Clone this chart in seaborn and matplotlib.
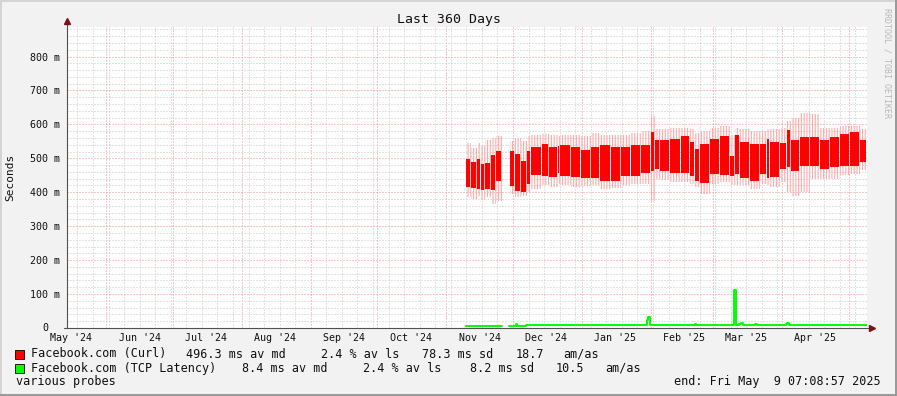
import numpy as np
import pandas as pd
import matplotlib
matplotlib.use("Agg")
import matplotlib.pyplot as plt
import matplotlib.dates as mdates
import matplotlib.transforms as mtrans
from matplotlib.patches import Rectangle
from matplotlib.lines import Line2D
import seaborn as sns

# ---------------- data ----------------
range_start = "2024-05-14 07:08:57"
range_end = "2025-05-09 07:08:57"

# Curl probe: blocks (start time) with median band low/high and smoke low/high (ms)
block_start = [
    "2024-11-09 21:00", "2024-11-12 03:00", "2024-11-14 16:00", "2024-11-16 15:00",
    "2024-11-18 10:00", "2024-11-21 03:00", "2024-11-23 09:00", "2024-11-25 22:00",
    "2024-11-29 16:00", "2024-12-01 22:00", "2024-12-04 15:00", "2024-12-07 04:00",
    "2024-12-09 00:00", "2024-12-13 22:00", "2024-12-17 08:00", "2024-12-21 10:00",
    "2024-12-22 04:00", "2024-12-27 03:00", "2024-12-31 15:00", "2025-01-05 03:00",
    "2025-01-09 04:00", "2025-01-14 03:00", "2025-01-18 15:00", "2025-01-23 03:00",
    "2025-01-27 15:00", "2025-02-01 03:00", "2025-02-02 22:00", "2025-02-05 04:00",
    "2025-02-09 16:00", "2025-02-14 12:00", "2025-02-18 16:00", "2025-02-20 22:00",
    "2025-02-23 04:00", "2025-02-27 16:00", "2025-03-04 04:00", "2025-03-08 16:00",
    "2025-03-10 22:00", "2025-03-13 04:00", "2025-03-17 16:00", "2025-03-22 04:00",
    "2025-03-25 08:00", "2025-03-26 16:00", "2025-03-31 04:00", "2025-04-03 08:00",
    "2025-04-05 03:00", "2025-04-09 04:00", "2025-04-13 16:00", "2025-04-18 04:00",
    "2025-04-22 16:00", "2025-04-27 04:00", "2025-05-01 16:00", "2025-05-06 04:00",
]
curl_hi = [498, 488, 497, 483, 487, 510, 523, np.nan,
           523, 513, 493, 523, 533, 543, 533, 535,
           538, 533, 525, 533, 540, 533, 533, 538,
           538, 577, 555, 555, 558, 565, 548, 528,
           543, 558, 565, 508, 568, 548, 543, 543,
           558, 548, 545, 583, 555, 563, 563, 555,
           563, 573, 578, 553]
curl_lo = [415, 413, 411, 408, 411, 408, 433, np.nan,
           418, 405, 401, 423, 451, 448, 445, 458,
           448, 445, 441, 443, 433, 433, 448, 448,
           458, 463, 468, 463, 458, 458, 448, 433,
           428, 455, 451, 448, 453, 443, 433, 453,
           443, 445, 468, 473, 463, 478, 478, 468,
           473, 478, 478, 488]
smoke_hi = [545, 530, 545, 540, 555, 560, 565, np.nan,
            550, 560, 550, 565, 570, 573, 570, 565,
            570, 568, 565, 575, 570, 568, 570, 575,
            580, 625, 585, 585, 590, 590, 585, 575,
            580, 590, 595, 570, 590, 585, 580, 580,
            585, 585, 590, 610, 620, 635, 630, 590,
            590, 595, 595, 585]
smoke_lo = [385, 380, 390, 378, 385, 365, 375, np.nan,
            395, 385, 390, 400, 410, 420, 415, 425,
            420, 415, 418, 420, 410, 412, 420, 425,
            425, 375, 440, 435, 430, 430, 425, 415,
            395, 425, 430, 420, 420, 420, 410, 425,
            420, 415, 430, 400, 390, 400, 440, 440,
            440, 450, 455, 465]

# TCP latency probe (step line, ms)
tcp_time = ["2024-11-09 21:00", "2024-11-25 22:00",
            "2024-11-29 05:00", "2024-12-02 03:00", "2024-12-02 20:00", "2024-12-06 15:00",
            "2024-12-09 00:00", "2025-01-30 08:00", "2025-01-30 18:00", "2025-01-31 11:00",
            "2025-02-20 17:00", "2025-02-21 09:00", "2025-03-10 14:00", "2025-03-11 12:00",
            "2025-03-12 22:00", "2025-03-13 14:00", "2025-03-14 12:00", "2025-03-19 22:00",
            "2025-03-20 19:00", "2025-04-02 21:00", "2025-04-03 12:00", "2025-04-04 05:00",
            "2025-05-09 07:00"]
tcp_ms = [6, 6,
          6, 12, 6, 9,
          8, 25, 31, 8,
          12, 8, 112, 8,
          12, 15, 8, 12,
          8, 12, 16, 8,
          8]
tcp_segment = [0, 0] + [1] * 21

month_labels = ["May '24", "Jun '24", "Jul '24", "Aug '24", "Sep '24", "Oct '24",
                "Nov '24", "Dec '24", "Jan '25", "Feb '25", "Mar '25", "Apr '25"]
y_ticks = [100, 200, 300, 400, 500, 600, 700, 800]

legend_rows = [
    ["Facebook.com (Curl)", "496.3 ms av md", "2.4 % av ls", "78.3 ms sd", "18.7", "am/as"],
    ["Facebook.com (TCP Latency)", "8.4 ms av md", "2.4 % av ls", "8.2 ms sd", "10.5", "am/as"],
]
legend_colors = ["#ff0000", "#00ff00"]

# ---------------- style ----------------
sns.set_theme(style="white")
plt.rcParams["font.family"] = ["DejaVu Sans Mono"]
plt.rcParams["hatch.linewidth"] = 0.8

W, H = 897, 396
fig = plt.figure(figsize=(W / 100, H / 100), dpi=100, facecolor="#f2f2f2")

def fx(px):
    return px / W

def fy(py):
    return 1 - py / H

L, R, T, B = 67, 867, 27, 328
ax = fig.add_axes([fx(L), fy(B), (R - L) / W, (B - T) / H])
ax.set_facecolor("white")

t0 = pd.Timestamp(range_start)
t1 = pd.Timestamp(range_end)

# grid
MINOR_C = "#c8c8c8"
MAJOR_C = "#f09090"
ax.xaxis.set_major_locator(mdates.MonthLocator())
ax.xaxis.set_minor_locator(mdates.WeekdayLocator(byweekday=mdates.SU))
ax.yaxis.set_major_locator(matplotlib.ticker.FixedLocator([0] + y_ticks))
ax.yaxis.set_minor_locator(matplotlib.ticker.MultipleLocator(20))
ax.grid(which="minor", color=MINOR_C, linestyle=(0, (1, 2)), linewidth=0.72)
ax.grid(which="major", color=MAJOR_C, linestyle=(0, (1, 2)), linewidth=0.72)
ax.set_axisbelow(True)
for s in ax.spines.values():
    s.set_visible(False)

ax.tick_params(axis="both", which="both", length=1.6, width=0.6, color="#909090",
               direction="out")

# curl probe: smoke + median band
starts = pd.to_datetime(block_start)
ends = list(starts[1:]) + [t1]
s_num = mdates.date2num(starts)
e_num = mdates.date2num(pd.DatetimeIndex(ends))
widths = e_num - s_num
hi = np.array(curl_hi, dtype=float)
lo = np.array(curl_lo, dtype=float)
shi = np.array(smoke_hi, dtype=float)
slo = np.array(smoke_lo, dtype=float)
ok = ~np.isnan(hi)

ax.bar(s_num[ok], shi[ok] - slo[ok], bottom=slo[ok], width=widths[ok], align="edge",
       facecolor="none", edgecolor="#ffaaaa", hatch="|" * 6, linewidth=0, zorder=2)
ax.bar(s_num[ok], hi[ok] - lo[ok], bottom=lo[ok], width=widths[ok] - 0.45, align="edge",
       color="#ff0000", edgecolor="none", linewidth=0, zorder=3)

# tcp probe
tcp_df = pd.DataFrame({"time": mdates.date2num(pd.to_datetime(tcp_time)),
                       "ms": tcp_ms, "segment": tcp_segment})
sns.lineplot(data=tcp_df, x="time", y="ms", units="segment", estimator=None,
             drawstyle="steps-post", color="#00ff00", linewidth=1.4, ax=ax, zorder=4)
ax.set_xlabel("")
ax.set_ylabel("")
ax.set_xlim(mdates.date2num(t0), mdates.date2num(t1))
ax.set_ylim(0, 887)
ax.set_yticks([0] + y_ticks)
ax.set_yticklabels([""] + [f"{v} m" for v in y_ticks], fontsize=7.2, color="#101010")
ax.tick_params(axis="y", which="major", pad=3.2)
ax.tick_params(axis="x", which="both", labelbottom=False)

# month labels at mid-month
blend = mtrans.blended_transform_factory(ax.transData, ax.transAxes)
label_pos = pd.date_range("2024-05-01", periods=len(month_labels), freq="MS") + pd.Timedelta(days=15)
for d, lab in zip(label_pos, month_labels):
    ax.text(mdates.date2num(d), -(337.7 - B) / (B - T), lab, transform=blend,
            ha="center", va="center", fontsize=7.2, color="#101010")

# zero label
blend_y = mtrans.blended_transform_factory(ax.transAxes, ax.transData)
ax.text(-(L - 48) / (R - L), 0, "0", transform=blend_y, ha="right", va="center",
        fontsize=7.2, color="#101010")

# axes lines with arrows
AX_C = "#505050"
ARR_C = "#7a1414"
ax.add_line(Line2D([0, 0], [0, 1 + 5 / (B - T)], transform=ax.transAxes, color=AX_C,
                   lw=0.8, clip_on=False, zorder=5))
ax.add_line(Line2D([0], [1 + 6 / (B - T)], transform=ax.transAxes, marker="^",
                   markersize=4.5, color=ARR_C, clip_on=False, zorder=6, linestyle="none"))
ax.add_line(Line2D([-3 / (R - L), 1 + 3 / (R - L)], [0, 0], transform=ax.transAxes,
                   color=AX_C, lw=0.8, clip_on=False, zorder=5))
ax.add_line(Line2D([1 + 5 / (R - L)], [0], transform=ax.transAxes, marker=">",
                   markersize=4.5, color=ARR_C, clip_on=False, zorder=6, linestyle="none"))

# title and labels
fig.text(fx(448.5), fy(19), "Last 360 Days", ha="center", va="center", fontsize=9.5,
         color="#101010")
fig.text(fx(10), fy(177), "Seconds", ha="center", va="center", rotation=90,
         fontsize=8, color="#101010")
fig.text(fx(887), fy(8), "RRDTOOL / TOBI OETIKER", ha="center", va="top",
         rotation=270, fontsize=6, color="#b8b8b8")

# legend
col_x = [
    [30.5, 185.7, 321, 421.7, 516, 563.3],
    [30.5, 242.3, 363.3, 470, 556, 605.7],
]
row_y = [354, 368.3]
for row, xs, yy, col in zip(legend_rows, col_x, row_y, legend_colors):
    fig.patches.append(Rectangle((fx(15), fy(yy + 4.5)), fx(8.5), 9 / H,
                                 transform=fig.transFigure, facecolor=col,
                                 edgecolor="#000000", linewidth=0.6))
    for txt, xx in zip(row, xs):
        fig.text(fx(xx), fy(yy), txt, ha="left", va="center", fontsize=8.5,
                 color="#101010")
fig.text(fx(16), fy(382), "various probes", ha="left", va="center", fontsize=8.5,
         color="#101010")
fig.text(fx(881), fy(382), "end: Fri May  9 07:08:57 2025", ha="right", va="center",
         fontsize=8.5, color="#101010")

# frame shading
fig.patches.append(Rectangle((0, 1 - 2 / H), 1, 2 / H, transform=fig.transFigure,
                             facecolor="#d4d4d4", edgecolor="none"))
fig.patches.append(Rectangle((0, 0), 2 / W, 1, transform=fig.transFigure,
                             facecolor="#d4d4d4", edgecolor="none"))
fig.patches.append(Rectangle((0, 0), 1, 2 / H, transform=fig.transFigure,
                             facecolor="#9a9a9a", edgecolor="none"))
fig.patches.append(Rectangle((1 - 2 / W, 0), 2 / W, 1, transform=fig.transFigure,
                             facecolor="#9a9a9a", edgecolor="none"))

fig.savefig("out.png", dpi=100, facecolor=fig.get_facecolor())
